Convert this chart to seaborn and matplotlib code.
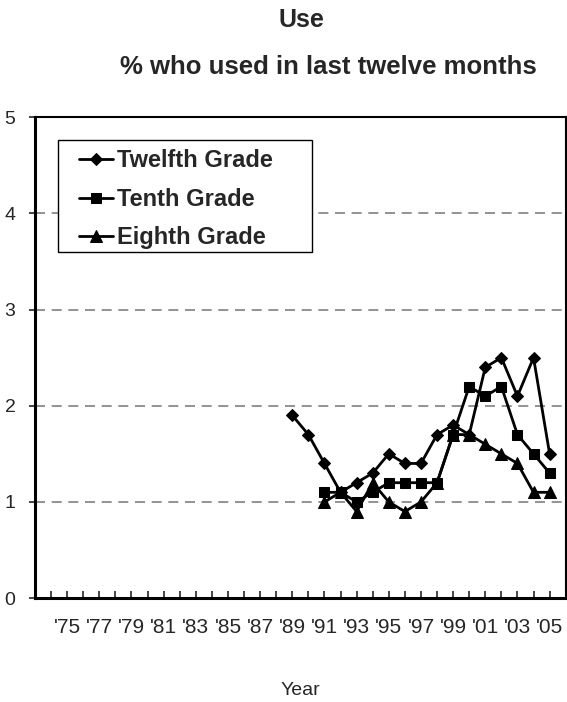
import matplotlib
matplotlib.use("Agg")
import matplotlib.pyplot as plt
from matplotlib.patches import Rectangle
import seaborn as sns
import pandas as pd

# Données (% ayant consommé dans les 12 derniers mois)
years_12 = list(range(1989, 2006))
twelfth = [1.9, 1.7, 1.4, 1.1, 1.2, 1.3, 1.5, 1.4, 1.4, 1.7, 1.8, 1.7, 2.4, 2.5, 2.1, 2.5, 1.5]

years_10_8 = list(range(1991, 2006))
tenth = [1.1, 1.1, 1.0, 1.1, 1.2, 1.2, 1.2, 1.2, 1.7, 2.2, 2.1, 2.2, 1.7, 1.5, 1.3]
eighth = [1.0, 1.1, 0.9, 1.2, 1.0, 0.9, 1.0, 1.2, 1.7, 1.7, 1.6, 1.5, 1.4, 1.1, 1.1]

tick_years = list(range(1975, 2006, 2))
tick_labels = ["'" + str(y)[2:] for y in tick_years]

sns.set_style("white")
plt.rcParams['font.family'] = ['Liberation Sans', 'DejaVu Sans']

fig = plt.figure(figsize=(5.67, 7.02), dpi=100)
ax = fig.add_axes([0.0617, 0.148, 0.936, 0.685])

series = [
    ("Twelfth Grade", years_12, twelfth, "D", 6.5),
    ("Tenth Grade", years_10_8, tenth, "s", 7),
    ("Eighth Grade", years_10_8, eighth, "^", 8),
]

for name, yrs, vals, mk, ms in series:
    df = pd.DataFrame({"Year": yrs, "Value": vals})
    sns.lineplot(data=df, x="Year", y="Value", ax=ax, color="black",
                 linewidth=2, marker=mk, markersize=ms, markeredgecolor="black",
                 label=name)

# grille pointillée
for yv in [1, 2, 3, 4]:
    ax.axhline(yv, color="#808080", linestyle=(0, (6, 4)), linewidth=1.2, zorder=0)

ax.set_xlim(1973, 2006)
ax.set_ylim(0, 5)
ax.set_yticks([0, 1, 2, 3, 4, 5])
ax.set_yticklabels(["0", "1", "2", "3", "4", "5"], fontsize=14)
ax.set_xticks(list(range(1974, 2006)), minor=True)
ax.set_xticks(tick_years)
ax.set_xticklabels(tick_labels, fontsize=15)
ax.tick_params(axis="x", which="both", direction="in", length=5, width=1.2,
               bottom=True, pad=14)
ax.tick_params(axis="y", direction="out", length=4, width=1.2, left=True, pad=10)

for side in ["left", "bottom"]:
    ax.spines[side].set_linewidth(2.2)
for side in ["top", "right"]:
    ax.spines[side].set_linewidth(1.5)
for s in ax.spines.values():
    s.set_color("black")

ax.set_xlabel("Year", fontsize=14, labelpad=33)
ax.set_ylabel("")

# cadre de la légende (plus large que le texte, comme dans Excel)
ax.add_patch(Rectangle((0.0433, 0.719), 0.478, 0.233, transform=ax.transAxes,
                       facecolor="white", edgecolor="black", linewidth=1, zorder=4))
leg = ax.legend(loc="upper left", bbox_to_anchor=(0.083, 0.933), borderaxespad=0,
                frameon=False, prop={"weight": "bold", "size": 17},
                handlelength=1.45, handletextpad=0.15, borderpad=0,
                labelspacing=0.65)
leg.set_zorder(5)

fig.text(0.531, 0.971, "Use", ha="center", va="center", fontsize=18, fontweight="bold")
fig.text(0.579, 0.905, "% who used in last twelve months", ha="center", va="center",
         fontsize=18.5, fontweight="bold")

plt.savefig("out.png", dpi=100)
